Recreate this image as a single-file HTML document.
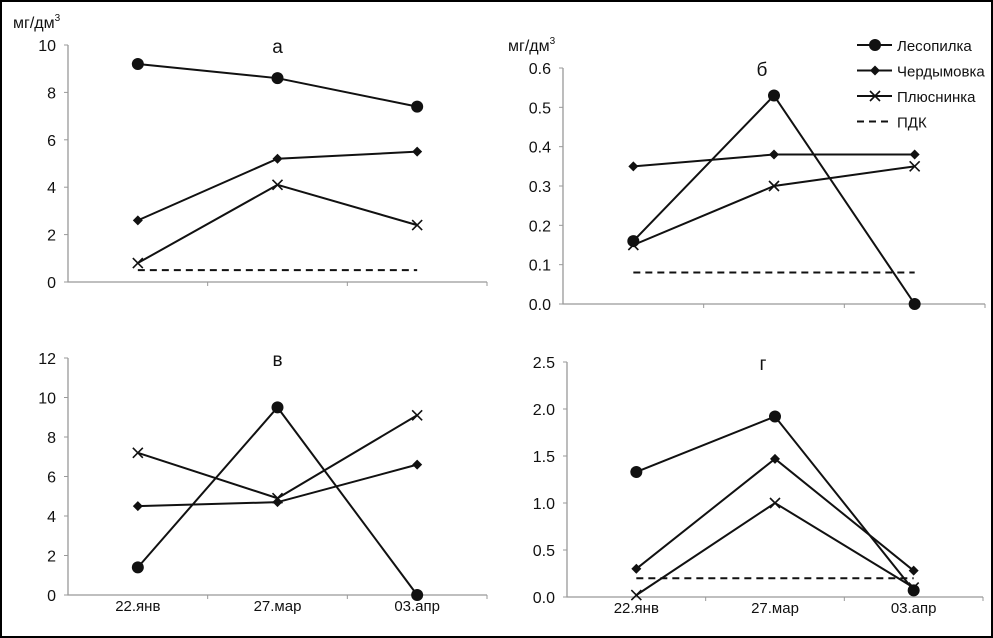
<!DOCTYPE html>
<html><head><meta charset="utf-8"><style>
body{margin:0;background:#fff}
svg{display:block}
text{font-family:"Liberation Sans","DejaVu Sans",sans-serif;fill:#111}
</style></head><body>
<svg id="c" width="993" height="638" viewBox="0 0 993 638">
<rect x="1" y="1" width="991" height="636" fill="#fff" stroke="#000" stroke-width="2"/>
</svg>
<script>
const categories=["22.янв","27.мар","03.апр"];
const seriesNames=["Лесопилка","Чердымовка","Плюснинка","ПДК"];
const aLes=[9.2,8.6,7.4], aCher=[2.6,5.2,5.5], aPlus=[0.8,4.1,2.4], aPdk=0.5;
const bLes=[0.16,0.53,0.0], bCher=[0.35,0.38,0.38], bPlus=[0.15,0.30,0.35], bPdk=0.08;
const vLes=[1.4,9.5,0.0], vCher=[4.5,4.7,6.6], vPlus=[7.2,4.9,9.1];
const gLes=[1.33,1.92,0.07], gCher=[0.30,1.47,0.28], gPlus=[0.02,1.0,0.10], gPdk=0.2;
const aTicks=["0","2","4","6","8","10"], bTicks=["0.0","0.1","0.2","0.3","0.4","0.5","0.6"];
const vTicks=["0","2","4","6","8","10","12"], gTicks=["0.0","0.5","1.0","1.5","2.0","2.5"];
const NS="http://www.w3.org/2000/svg", svg=document.getElementById('c');
function el(t,a,p){const e=document.createElementNS(NS,t);for(const k in a)e.setAttribute(k,a[k]);(p||svg).appendChild(e);return e;}
function panel(name,o,ticks,max,series,pdk,title,showX,unit){
  const g=el('g',{});
  
  
  const y=v=>o.y0-(v/max)*(o.y0-o.y1);
  const xs=i=>o.x0+(o.x2-o.x0)*(i*2+1)/6;
  const ax=el('path',{d:`M${o.x0} ${o.y1}V${o.y0}H${o.x2}`,stroke:'#999',fill:'none','stroke-width':1.3},g);
  
  
  ticks.forEach(t=>{const v=parseFloat(t);
    el('line',{x1:o.x0-4,x2:o.x0,y1:y(v),y2:y(v),stroke:'#999'},g);
    const tx=el('text',{x:o.x0-12,y:y(v)+6,'text-anchor':'end','font-size':16},g);tx.textContent=t;
    
    });
  for(let i=1;i<=3;i++){const xx=o.x0+(o.x2-o.x0)*i/3;el('line',{x1:xx,x2:xx,y1:o.y0,y2:o.y0+4,stroke:'#999'},g);}
  if(showX)categories.forEach((c,i)=>{const t=el('text',{x:xs(i),y:o.y0+16,'text-anchor':'middle','font-size':15},g);t.textContent=c;
    
    });
  const tt=el('text',{x:(o.x0+o.x2)/2-(name=='a'||name=='v'?0:12),y:o.y1+8,'text-anchor':'middle','font-size':19},g);tt.textContent=title;
  
  
  if(unit){const u=el('text',{x:o.x0-55,y:o.y1-17,'font-size':16},g);u.innerHTML='мг/дм<tspan dy="-7" font-size="10">3</tspan>';
    
    }
  if(pdk!=null){const l=el('line',{x1:xs(0),x2:xs(2),y1:y(pdk),y2:y(pdk),stroke:'#111','stroke-width':2,'stroke-dasharray':'7 5'},g);
    
    }
  series.forEach((s,k)=>{
    const pl=el('polyline',{points:s.map((v,i)=>xs(i)+','+y(v)).join(' '),fill:'none',stroke:'#111','stroke-width':2},g);
    
    
    s.forEach((v,i)=>{marker(g,k,xs(i),y(v));});
  });
}
function marker(g,k,x,y){let m;
  if(k==0)m=el('circle',{cx:x,cy:y,r:6,fill:'#111'},g);
  else if(k==1)m=el('path',{d:`M${x} ${y-5}L${x+5} ${y}L${x} ${y+5}L${x-5} ${y}Z`,fill:'#111'},g);
  else m=el('path',{d:`M${x-5} ${y-5}L${x+5} ${y+5}M${x+5} ${y-5}L${x-5} ${y+5}`,stroke:'#111','stroke-width':1.6},g);
  
  }
panel('a',{x0:68,x2:487,y0:282,y1:45},aTicks,10,[aLes,aCher,aPlus],aPdk,'а',false,true);
panel('b',{x0:563,x2:985,y0:304,y1:68},bTicks,0.6,[bLes,bCher,bPlus],bPdk,'б',false,true);
panel('v',{x0:68,x2:487,y0:595,y1:358},vTicks,12,[vLes,vCher,vPlus],null,'в',true,false);
panel('g',{x0:567,x2:983,y0:597,y1:362},gTicks,2.5,[gLes,gCher,gPlus],gPdk,'г',true,false);
const lg=el('g',{});


seriesNames.forEach((n,k)=>{const yy=45+k*25.5;
  const e=el('g',{},lg);
  
  
  el('line',{x1:857,x2:892,y1:yy,y2:yy,stroke:'#111','stroke-width':2,'stroke-dasharray':k==3?'7 5':'none'},e);
  if(k<3)marker(e,k,875,yy);
  const t=el('text',{x:897,y:yy+6,'font-size':15},e);t.textContent=n;});
</script>
</body></html>
